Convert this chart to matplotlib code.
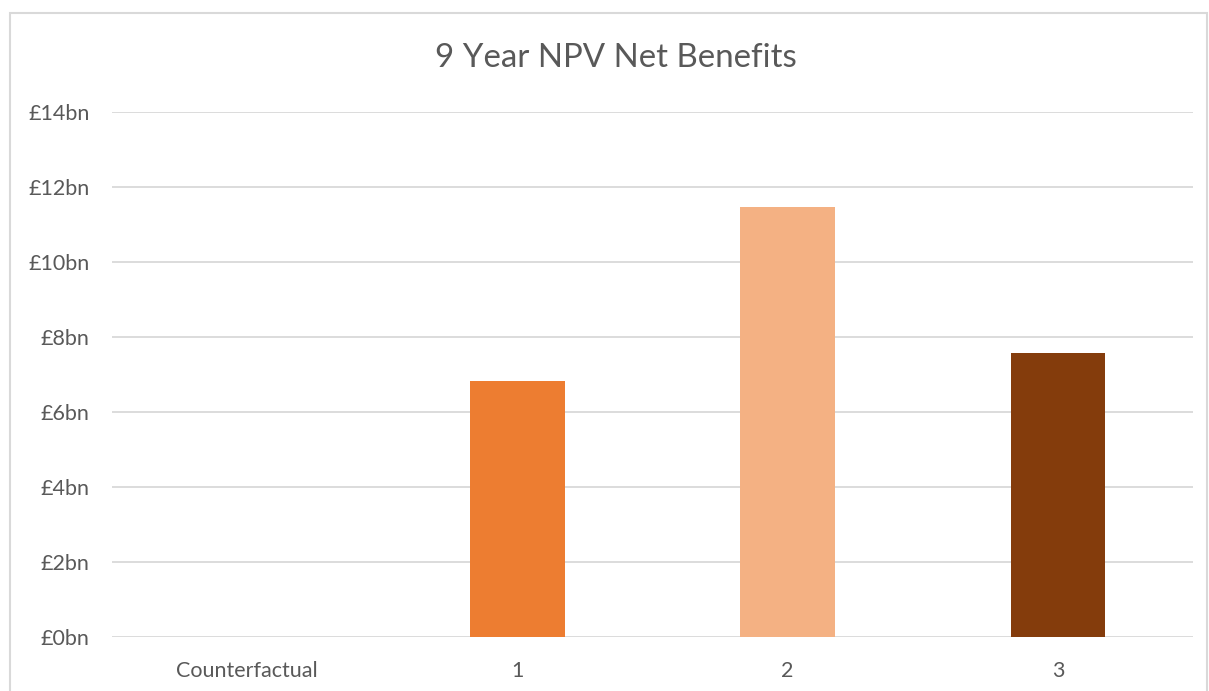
import matplotlib.pyplot as plt
from matplotlib.patches import Rectangle

# 数据
categories = ['Counterfactual', '1', '2', '3']
npv_bn = [0, 6.82, 11.48, 7.58]
bar_colors = ['#ED7D31', '#ED7D31', '#F4B183', '#843C0C']
y_ticks = [0, 2, 4, 6, 8, 10, 12, 14]
y_labels = [f'£{v}bn' for v in y_ticks]

plt.rcParams['font.family'] = ['Lato', 'DejaVu Sans']
text_color = '#595959'
grid_color = '#D9D9D9'

fig = plt.figure(figsize=(12.09, 6.91), dpi=100)
ax = fig.add_axes([112 / 1209, 54 / 691, (1193 - 112) / 1209, (637 - 112) / 691])

# 外框
fig.patches.append(Rectangle((10 / 1209, -0.05), 1197 / 1209, 1.05 - 13 / 691,
                             transform=fig.transFigure, fill=False,
                             edgecolor='#D9D9D9', linewidth=1.5))

x = range(len(categories))
ax.bar(x, npv_bn, width=0.35, color=bar_colors, zorder=3)

ax.set_xlim(-0.5, len(categories) - 0.5)
ax.set_ylim(0, 14)
ax.set_yticks(y_ticks)
ax.set_yticklabels(y_labels)
ax.set_xticks(list(x))
ax.set_xticklabels(categories)

ax.grid(axis='y', color=grid_color, linewidth=1.3, zorder=0)
for s in ax.spines.values():
    s.set_visible(False)
ax.tick_params(axis='both', length=0, labelsize=15.5, colors=text_color)
ax.tick_params(axis='y', pad=16)
ax.tick_params(axis='x', pad=17)

fig.text(616 / 1209, 1 - 58 / 691, '9 Year NPV Net Benefits', ha='center', va='center',
         fontsize=23.8, color=text_color)

fig.savefig('out.png', dpi=100)
